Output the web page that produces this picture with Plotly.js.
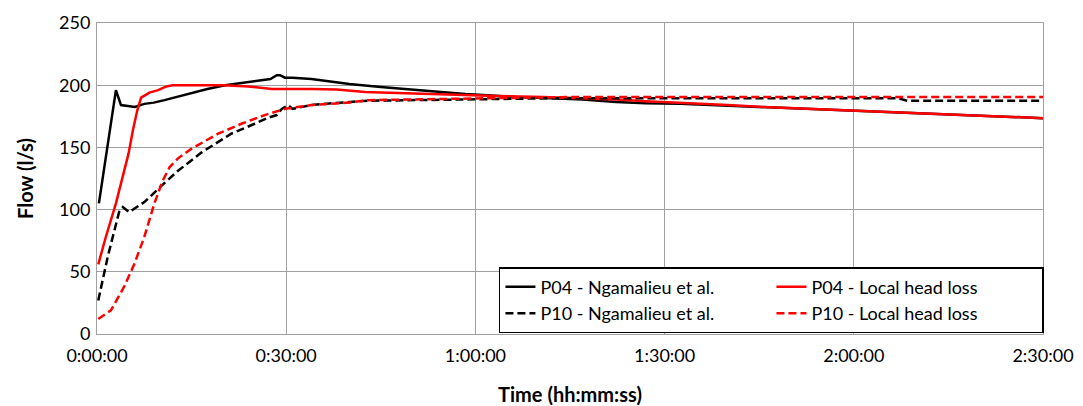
<!DOCTYPE html>
<html>
<head>
<meta charset="utf-8">
<script src="https://cdn.plot.ly/plotly-3.0.1.min.js"></script>
<style>html,body{margin:0;padding:0;background:#fff;}#chart{width:1083px;height:406px;}</style>
</head>
<body>
<div id="chart"></div>
<script>
// time in minutes
const tickVals = [0, 30, 60, 90, 120, 150];
const tickLabels = ["0:00:00", "0:30:00", "1:00:00", "1:30:00", "2:00:00", "2:30:00"];

const p04NgT = [0.3, 3.0, 3.8, 5.0, 6.0, 7.5, 9, 10.7, 13, 15, 17.5, 20.3, 23, 25.6, 27.5, 28.5, 29.0, 29.8, 31, 34, 37, 40, 45, 50.5, 55, 58.4, 62, 66.4, 72, 77, 82.3, 87, 92.5, 100, 105.7, 113, 120.5, 130, 137.5, 145, 150];
const p04NgY = [105, 196, 184, 183, 182.5, 185, 186, 188, 191, 194, 197, 200, 202, 204, 205, 208, 208, 206, 206, 205, 203, 201, 198.5, 196, 194.5, 193, 192, 190.5, 189.5, 188.5, 186.5, 185.5, 185, 183.5, 182, 181, 179, 177.5, 176, 174.5, 173.5];

const p04LhT = [0.2, 1.4, 3.0, 4.3, 5.0, 5.7, 6.4, 7.0, 8.3, 9.7, 11, 12, 15, 20, 24, 27.7, 34, 38, 42.5, 48, 55.8, 62, 70.7, 76, 82.3, 87, 92.5, 100, 105.7, 113, 120.5, 130, 137.5, 145, 150];
const p04LhY = [56, 78, 105, 131, 145, 164, 180, 190, 194, 196, 199, 200, 200, 200, 199, 197, 197, 196.5, 194.5, 193.5, 192.5, 191.5, 190.5, 189.5, 188.5, 187, 185.5, 184, 182.5, 181, 179.5, 178, 176, 174.5, 173.5];

const p10NgT = [0.2, 1.7, 3.5, 4.1, 5.1, 7.5, 10.2, 12.8, 16.6, 21.3, 25, 27.2, 28.5, 29.3, 30.3, 31, 34, 37.2, 43, 50, 60, 72.3, 90, 110, 127, 128.5, 150];
const p10NgY = [27, 62, 98, 102, 98, 106, 119, 131, 146, 161, 169, 174, 176, 181, 184, 181, 184, 185.5, 187.5, 188, 188.5, 189.5, 189.5, 189.5, 189.5, 187.5, 187.5];

const p10LhT = [0.2, 2.2, 4.3, 5.9, 7.5, 9.1, 10.4, 11.5, 12.8, 15, 19.2, 22.9, 26.6, 29.8, 34, 40, 43, 50, 60, 75, 90, 120, 150];
const p10LhY = [12, 19, 38, 56, 78, 105, 123, 134, 141, 149, 161, 169, 176, 181, 184, 186, 188, 188.5, 189, 190.5, 190.5, 190.5, 190.5];

const FONT = "Lato, 'Open Sans', sans-serif";

const traces = [
  {x: p04NgT, y: p04NgY, name: "P04 - Ngamalieu et al.", mode: "lines", line: {color: "#000000", width: 2.5}},
  {x: p04LhT, y: p04LhY, name: "P04 - Local head loss", mode: "lines", line: {color: "#ff0000", width: 2.5}},
  {x: p10NgT, y: p10NgY, name: "P10 - Ngamalieu et al.", mode: "lines", line: {color: "#000000", width: 2.5, dash: "8px,4px"}},
  {x: p10LhT, y: p10LhY, name: "P10 - Local head loss", mode: "lines", line: {color: "#ff0000", width: 2.5, dash: "8px,4px"}}
];

const layout = {
  width: 1083, height: 406,
  margin: {l: 97, r: 40, t: 23, b: 72, autoexpand: false},
  paper_bgcolor: "#fff", plot_bgcolor: "#fff",
  font: {family: FONT, size: 18, color: "#000"},
  showlegend: true,
  legend: {
    orientation: "h", x: 1.001, xanchor: "right", y: 0.003, yanchor: "bottom",
    bgcolor: "#fff", bordercolor: "#000", borderwidth: 1.5,
    font: {family: FONT, size: 18, color: "#000"},
    entrywidth: 226, entrywidthmode: "pixels", traceorder: "normal"
  },
  xaxis: {
    range: [0, 150], tickvals: tickVals, ticktext: tickLabels,
    showgrid: true, gridcolor: "#a0a0a0", gridwidth: 1,
    showline: true, linecolor: "#a0a0a0", linewidth: 1, mirror: true,
    zeroline: false, ticks: "", ticklabelstandoff: 5,
    tickfont: {family: FONT, size: 18, color: "#000"},
    title: {text: "<b>Time (hh:mm:ss)</b>", font: {family: FONT, size: 20, color: "#000"}, standoff: 24}
  },
  yaxis: {
    range: [0, 250], tickvals: [0, 50, 100, 150, 200, 250],
    showgrid: true, gridcolor: "#a0a0a0", gridwidth: 1,
    showline: true, linecolor: "#a0a0a0", linewidth: 1, mirror: true,
    zeroline: false, ticks: "", ticklabelstandoff: 2,
    tickfont: {family: FONT, size: 18, color: "#000"},
    title: {text: "<b>Flow (l/s)</b>", font: {family: FONT, size: 20, color: "#000"}, standoff: 20}
  }
};

Plotly.newPlot("chart", traces, layout, {staticPlot: true, displayModeBar: false});
</script>
</body>
</html>
